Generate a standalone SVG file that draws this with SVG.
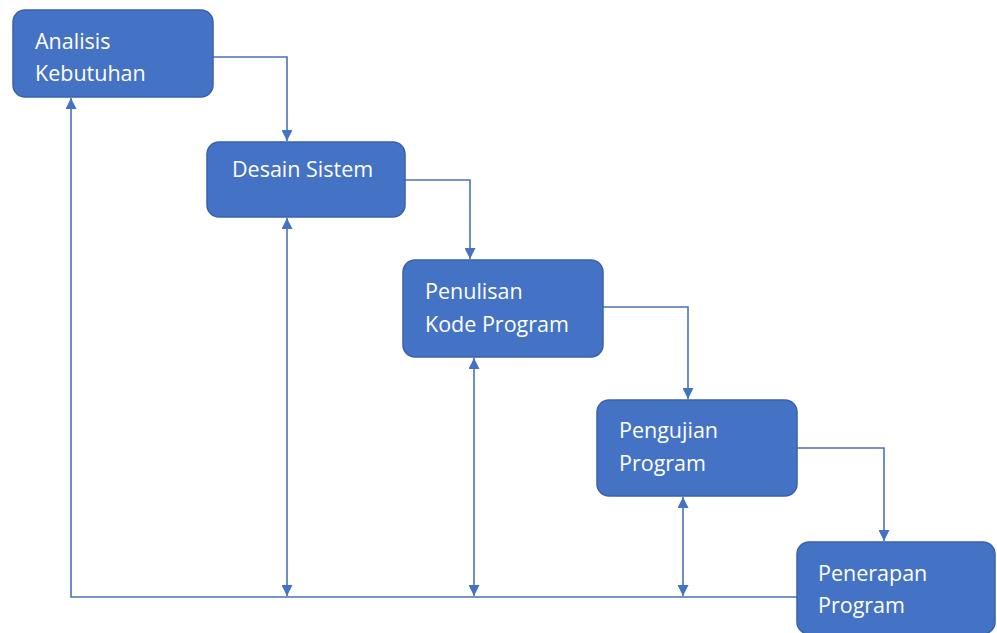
<svg xmlns="http://www.w3.org/2000/svg" width="997" height="633" viewBox="0 0 997 633">
<style>
.box{fill:#4472C4;stroke:#3A62AC;stroke-width:1.5}
.lbl{font-family:"Open Sans","Noto Sans","Liberation Sans",sans-serif;font-size:21.5px;fill:#FFFFFF}
.con{fill:none;stroke:#4A72B8;stroke-width:1.6}
</style>
<defs>
<marker id="ah" viewBox="0 0 10 10" refX="10" refY="5" markerWidth="12" markerHeight="11" markerUnits="userSpaceOnUse" orient="auto-start-reverse">
<path d="M0,0 L10,5 L0,10 z" fill="#4472C4"/>
</marker>
</defs>
<rect width="997" height="633" fill="#FFFFFF"/>
<g id="connectors">
<path class="con" d="M213,57 H287 V141" marker-end="url(#ah)"/>
<path class="con" d="M405,180 H470 V259" marker-end="url(#ah)"/>
<path class="con" d="M603,307 H688 V399" marker-end="url(#ah)"/>
<path class="con" d="M797,448 H884 V541" marker-end="url(#ah)"/>
<path class="con" d="M797,597 H71 V98" marker-end="url(#ah)"/>
<path class="con" d="M287,218 V596" marker-start="url(#ah)" marker-end="url(#ah)"/>
<path class="con" d="M474,358 V596" marker-start="url(#ah)" marker-end="url(#ah)"/>
<path class="con" d="M683,497 V596" marker-start="url(#ah)" marker-end="url(#ah)"/>
</g>
<g id="analisis">
<rect class="box" x="13" y="10" width="200" height="87" rx="12"/>
<text class="lbl" x="35" y="49">Analisis</text>
<text class="lbl" x="35" y="81">Kebutuhan</text>
</g>
<g id="desain">
<rect class="box" x="207" y="142" width="198" height="75" rx="12"/>
<text class="lbl" x="232" y="177">Desain Sistem</text>
</g>
<g id="penulisan">
<rect class="box" x="403" y="260" width="200" height="97" rx="12"/>
<text class="lbl" x="425" y="299">Penulisan</text>
<text class="lbl" x="425" y="332">Kode Program</text>
</g>
<g id="pengujian">
<rect class="box" x="597" y="400" width="200" height="96" rx="12"/>
<text class="lbl" x="619" y="438">Pengujian</text>
<text class="lbl" x="619" y="471">Program</text>
</g>
<g id="penerapan">
<rect class="box" x="797" y="542" width="198" height="92" rx="12"/>
<text class="lbl" x="818" y="581">Penerapan</text>
<text class="lbl" x="818" y="613">Program</text>
</g>
</svg>
